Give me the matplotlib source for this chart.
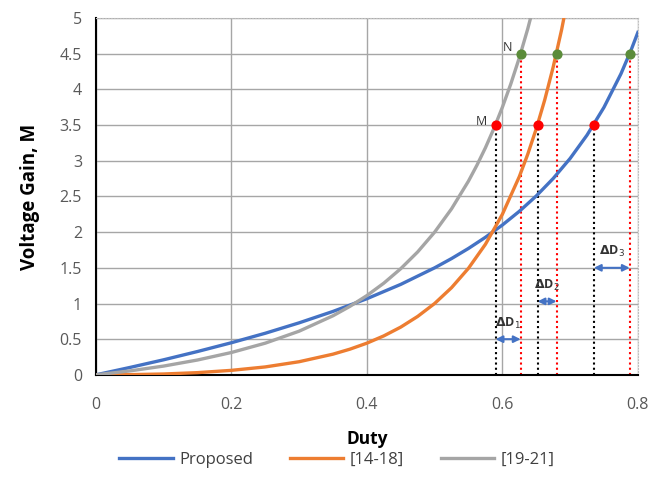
import numpy as np
import matplotlib
matplotlib.use("Agg")
import matplotlib.pyplot as plt

plt.rcParams['font.family'] = ['Open Sans', 'DejaVu Sans']

# curve data
duty = [0, 0.05, 0.1, 0.15, 0.2, 0.25, 0.3, 0.35, 0.4, 0.45, 0.5, 0.525, 0.55, 0.575, 0.6,
        0.625, 0.65, 0.675, 0.7, 0.725, 0.75, 0.775, 0.79, 0.8]
proposed = [0, 0.103, 0.211, 0.327, 0.45, 0.583, 0.729, 0.889, 1.067, 1.268, 1.5, 1.63, 1.772, 1.928, 2.1,
            2.292, 2.507, 2.752, 3.033, 3.361, 3.75, 4.219, 4.552, 4.8]

duty_b = [0, 0.05, 0.1, 0.15, 0.2, 0.25, 0.3, 0.35, 0.375, 0.4, 0.425, 0.45, 0.475, 0.5, 0.525, 0.55,
          0.575, 0.6, 0.625, 0.6375, 0.65, 0.6625, 0.675, 0.6875, 0.7]
ref_14_18 = [0, 0.003, 0.012, 0.031, 0.063, 0.111, 0.184, 0.29, 0.36, 0.444, 0.546, 0.669, 0.819, 1.0, 1.222, 1.494,
             1.83, 2.25, 2.778, 3.093, 3.449, 3.853, 4.314, 4.84, 5.444]

duty_c = [0, 0.05, 0.1, 0.15, 0.2, 0.25, 0.3, 0.35, 0.375, 0.4, 0.425, 0.45, 0.475, 0.5, 0.525, 0.55,
          0.5625, 0.575, 0.5875, 0.6, 0.6125, 0.625, 0.6375, 0.65]
ref_19_21 = [0, 0.055, 0.123, 0.208, 0.313, 0.444, 0.612, 0.828, 0.96, 1.111, 1.285, 1.488, 1.723, 2.0, 2.327, 2.716,
             2.939, 3.183, 3.453, 3.75, 4.079, 4.444, 4.851, 5.306]

# operating points (M = 3.5 red, M = 4.5 green)
d_red = [0.59, 0.652, 0.735]
d_green = [0.627, 0.68, 0.788]
m_red = 3.5
m_green = 4.5
arrow_y = [0.5, 1.03, 1.5]
arrow_lbl = ['1', '2', '3']

blue = '#4472C4'
orange = '#ED7D31'
gray = '#A5A5A5'

fig = plt.figure(figsize=(6.61, 4.9), dpi=100)
ax = fig.add_axes([0.145, 0.235, 0.82, 0.728])

ax.plot(duty, proposed, color=blue, lw=2.4, label='Proposed', zorder=3)
ax.plot(duty_b, ref_14_18, color=orange, lw=2.4, label='[14-18]', zorder=3)
ax.plot(duty_c, ref_19_21, color=gray, lw=2.4, label='[19-21]', zorder=3)

# dotted drop lines
for d in d_red:
    ax.plot([d, d], [0, m_red], color='black', ls=(0, (1, 1.5)), lw=1.5, zorder=2)
for d in d_green:
    ax.plot([d, d], [0, m_green], color='red', ls=(0, (1, 1.5)), lw=1.5, zorder=2)

ax.scatter(d_red, [m_red] * 3, color='red', s=40, zorder=5)
ax.scatter(d_green, [m_green] * 3, color='#5B8C3A', s=40, zorder=5)
ax.text(d_red[0] - 0.012, m_red + 0.05, 'M', fontsize=9, ha='right', va='center', color='#333333')
ax.text(d_green[0] - 0.012, m_green + 0.09, 'N', fontsize=9, ha='right', va='center', color='#333333')

# delta D arrows
for a, b, y, s in zip(d_red, d_green, arrow_y, arrow_lbl):
    ax.annotate('', xy=(b, y), xytext=(a, y),
                arrowprops=dict(arrowstyle='<|-|>', color=blue, lw=1.5,
                                mutation_scale=10, shrinkA=0, shrinkB=0), zorder=4)
    ax.text((a + b) / 2, y + 0.12, r'$\mathbf{\Delta}$D$_{%s}$' % s, fontsize=9,
            ha='center', va='bottom', fontweight='bold', color='#333333')

ax.set_xlim(0, 0.8)
ax.set_ylim(0, 5)
ax.set_xticks([0, 0.2, 0.4, 0.6, 0.8])
ax.set_xticklabels(['0', '0.2', '0.4', '0.6', '0.8'])
ax.set_yticks(np.arange(0, 5.01, 0.5))
ax.set_yticklabels(['0', '0.5', '1', '1.5', '2', '2.5', '3', '3.5', '4', '4.5', '5'])
ax.tick_params(colors='#595959', labelsize=11.5, length=0)
ax.tick_params(axis='x', pad=16)
ax.tick_params(axis='y', pad=10)
ax.grid(True, color='#A6A6A6', lw=1, zorder=0)
ax.set_axisbelow(True)

ax.spines['left'].set_color('black')
ax.spines['left'].set_linewidth(1.5)
ax.spines['bottom'].set_color('black')
ax.spines['bottom'].set_linewidth(1.5)
for side in ['top', 'right']:
    ax.spines[side].set_color('#BFBFBF')
    ax.spines[side].set_linestyle(':')

ax.set_xlabel('Duty', fontsize=12.5, fontweight='bold', labelpad=12)
ax.set_ylabel('Voltage Gain, M', fontsize=13.5, fontweight='bold', labelpad=14)

fig.legend(loc='lower center', bbox_to_anchor=(0.51, 0.015), ncol=3, frameon=False,
           fontsize=12, handlelength=3.2, handletextpad=0.4, columnspacing=2.2,
           labelcolor='#404040')

fig.savefig('out.png', dpi=100)
